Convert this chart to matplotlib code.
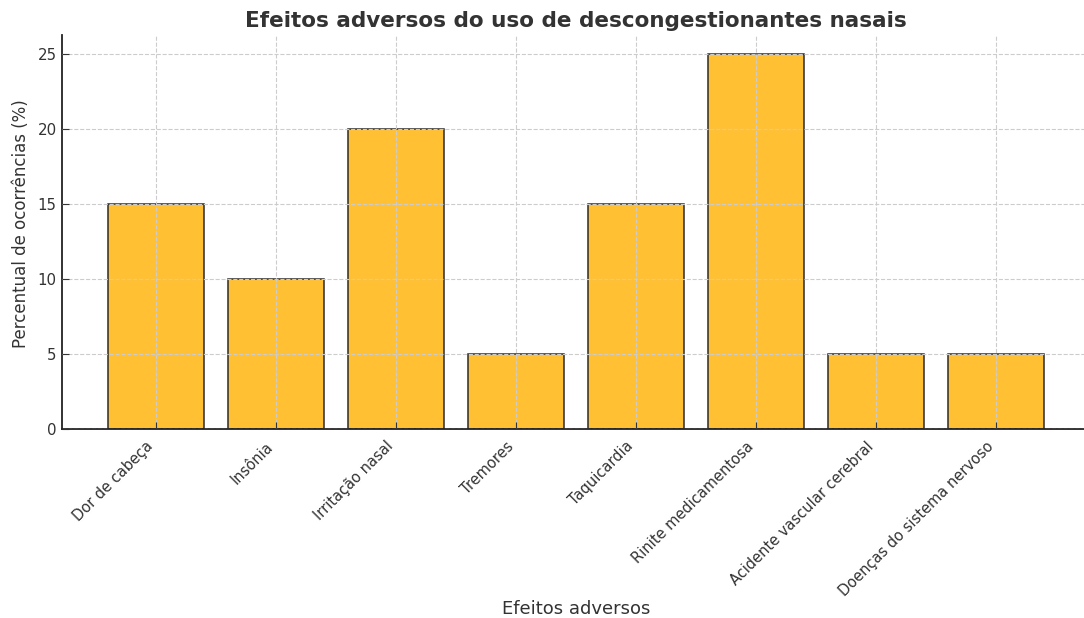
import matplotlib
matplotlib.use("Agg")
import matplotlib.pyplot as plt
import numpy as np

# data
efeitos = ['Dor de cabeça', 'Insônia', 'Irritação nasal', 'Tremores', 'Taquicardia',
           'Rinite medicamentosa', 'Acidente vascular cerebral',
           'Doenças do sistema nervoso']
percentual = [15, 10, 20, 5, 15, 25, 5, 5]

TEXT = '#333333'
plt.rcParams['font.family'] = ['DejaVu Sans']

fig = plt.figure(figsize=(10.84, 6.18), dpi=100)
ax = fig.add_axes([61.5 / 1084, 1 - 429 / 618, (1091 - 61.5) / 1084, (429 - 35) / 618])

x = np.arange(len(efeitos))
ax.bar(x, percentual, width=0.8, color='#FFC034', edgecolor='#2b2b2b', linewidth=1.1, zorder=1)

ax.set_xticks(x)
ax.set_xticklabels(efeitos, rotation=45, ha='right', fontsize=10.5, color=TEXT)
ax.set_yticks([0, 5, 10, 15, 20, 25])
ax.tick_params(axis='y', labelsize=10.8, labelcolor=TEXT)
ax.tick_params(direction='in', length=5, color='#333333')
ax.tick_params(axis='x', pad=7)

ax.grid(True, linestyle='--', color='#cccccc', linewidth=0.8, zorder=2)
ax.set_axisbelow(False)

for s in ['top', 'right']:
    ax.spines[s].set_visible(False)
for s in ['left', 'bottom']:
    ax.spines[s].set_color('#222222')
    ax.spines[s].set_linewidth(1.3)

ax.set_title('Efeitos adversos do uso de descongestionantes nasais',
             fontsize=15.5, fontweight='bold', color=TEXT, pad=6)
ax.set_xlabel('Efeitos adversos', fontsize=13, color=TEXT)
ax.set_ylabel('Percentual de ocorrências (%)', fontsize=12, color=TEXT)
ax.yaxis.set_label_coords(-0.031, 0.52)
ax.xaxis.set_label_coords(0.5, -0.435)

fig.savefig('out.png', dpi=100)
